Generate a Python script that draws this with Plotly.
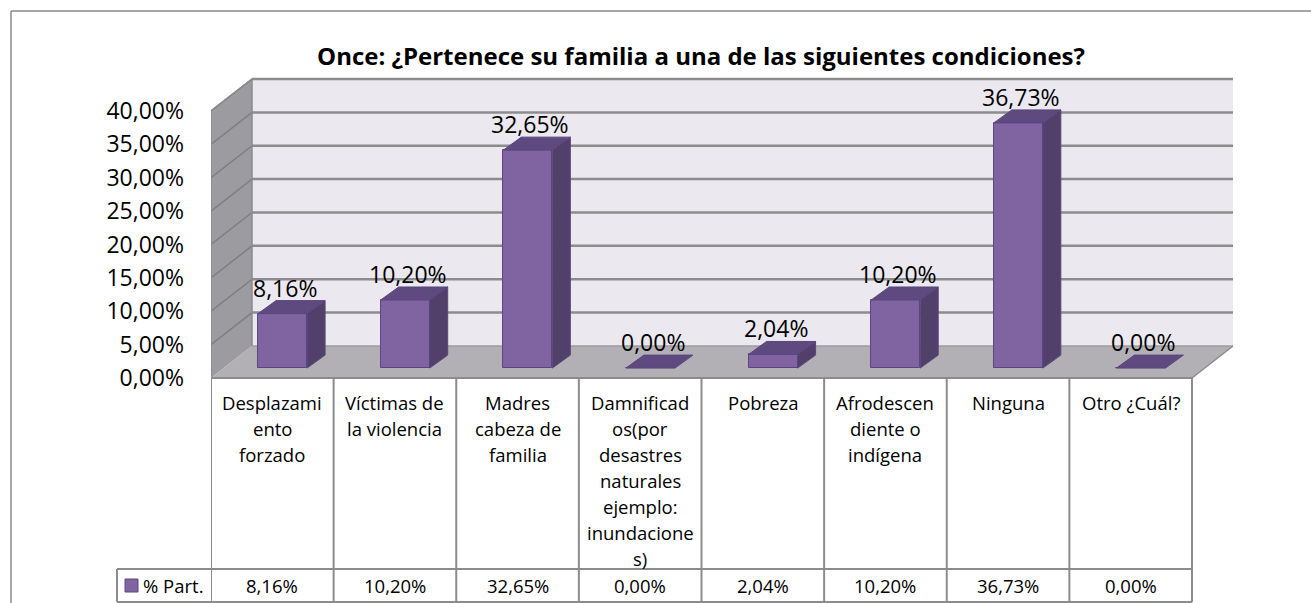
import plotly.graph_objects as go

# ---- data -------------------------------------------------------------
categories = [
    "Desplazamiento forzado",
    "Víctimas de la violencia",
    "Madres cabeza de familia",
    "Damnificados(por desastres naturales ejemplo: inundaciones)",
    "Pobreza",
    "Afrodescendiente o indígena",
    "Ninguna",
    "Otro ¿Cuál?",
]
# wrapped labels as they appear in the data-table header
category_lines = [
    ["Desplazami", "ento", "forzado"],
    ["Víctimas de", "la violencia"],
    ["Madres", "cabeza de", "familia"],
    ["Damnificad", "os(por", "desastres", "naturales", "ejemplo:", "inundacione", "s)"],
    ["Pobreza"],
    ["Afrodescen", "diente o", "indígena"],
    ["Ninguna"],
    ["Otro ¿Cuál?"],
]
values = [8.16, 10.20, 32.65, 0.00, 2.04, 10.20, 36.73, 0.00]
series_name = "% Part."
y_ticks = [0, 5, 10, 15, 20, 25, 30, 35, 40]
title_text = "Once: ¿Pertenece su familia a una de las siguientes condiciones?"


def pct(v):
    return f"{v:.2f}".replace(".", ",") + "%"


# ---- geometry of the oblique 3-D frame (axis units) --------------------
W, H = 1311, 603
LEFT = 211                     # left edge of the plotting area (px)
PX_X = 122.625                 # px per category
PX_Y = 6.675                   # px per percentage point
FLOOR_PX = 378                 # y pixel of the front floor edge
N = len(categories)
YMAX = 40

DX = 41 / PX_X                 # depth offset of the back wall
DY = 32 / PX_Y
BAR_W = 0.40                   # front-face width of a column
BX0, BY0 = 0.25 * DX, 0.31 * DY  # depth at which the column front sits
BDX, BDY = 18 / PX_X, 13 / PX_Y  # column depth

x_range = [0, (W - LEFT) / PX_X]
y_range = [(FLOOR_PX - H) / PX_Y, FLOOR_PX / PX_Y]

FRONT = "#8064A2"
TOP = "#5F4A7F"
SIDE = "#50406A"
EDGE = "#5A4680"
GRID = "#8C8C8C"

fig = go.Figure()

# ---- column front faces -------------------------------------------------
centers = [i + 0.5 + BX0 for i in range(N)]
fig.add_trace(go.Bar(
    x=centers, y=values, base=[BY0] * N, width=BAR_W,
    marker=dict(color=FRONT, line=dict(color=EDGE, width=1)),
    hoverinfo="skip", showlegend=False,
))

# ---- column top and side faces -----------------------------------------
top_x, top_y, side_x, side_y = [], [], [], []
for c, v in zip(centers, values):
    x0, x1 = c - BAR_W / 2, c + BAR_W / 2
    yb, yt = BY0, BY0 + v
    top_x += [x0, x1, x1 + BDX, x0 + BDX, x0, None]
    top_y += [yt, yt, yt + BDY, yt + BDY, yt, None]
    if v > 0:
        side_x += [x1, x1 + BDX, x1 + BDX, x1, x1, None]
        side_y += [yb, yb + BDY, yt + BDY, yt, yb, None]

fig.add_trace(go.Scatter(x=side_x, y=side_y, mode="lines", fill="toself",
                         fillcolor=SIDE, line=dict(color=EDGE, width=1),
                         hoverinfo="skip", showlegend=False))
fig.add_trace(go.Scatter(x=top_x, y=top_y, mode="lines", fill="toself",
                         fillcolor=TOP, line=dict(color=EDGE, width=1),
                         hoverinfo="skip", showlegend=False))

# ---- walls, floor and gridlines ----------------------------------------
shapes = []


def poly(pts, fill, line_color=None, width=0, layer="below"):
    d = "M " + " L ".join(f"{x},{y}" for x, y in pts) + " Z"
    shapes.append(dict(type="path", path=d, xref="x", yref="y",
                       fillcolor=fill, layer=layer,
                       line=dict(color=line_color or fill, width=width)))


def seg(x0, y0, x1, y1, color, width, xref="x", yref="y", layer="below"):
    shapes.append(dict(type="line", x0=x0, y0=y0, x1=x1, y1=y1,
                       xref=xref, yref=yref, layer=layer,
                       line=dict(color=color, width=width)))


# back wall
poly([(DX, DY), (N + DX, DY), (N + DX, YMAX + DY), (DX, YMAX + DY)], "#EBE8F0")
# side wall
poly([(0, 0), (DX, DY), (DX, YMAX + DY), (0, YMAX)], "#9C9BA0")
# floor
poly([(0, 0), (N, 0), (N + DX, DY), (DX, DY)], "#B3B0B5")

for t in y_ticks[1:]:
    seg(DX, t + DY, N + DX, t + DY, GRID, 2.5)
    seg(0, t, DX, t + DY, "#7E7E82", 1.5)
seg(DX, DY, N + DX, DY, "#9E9BA1", 1.5)
seg(DX, DY, DX, YMAX + DY, "#8A8A8E", 1.5)
seg(0, 0, 0, YMAX, "#8A8A8E", 1.5)
seg(0, YMAX, DX, YMAX + DY, "#8A8A8E", 1.5)
seg(N, 0, N + DX, DY, "#8E8C90", 1.5)

# ---- data table -----------------------------------------------------------
ROW1 = (FLOOR_PX - 569) / PX_Y
ROW2 = (FLOOR_PX - 602) / PX_Y
TBL = "#8C8C8C"
seg(0, 0, N, 0, TBL, 2, layer="above")
seg(0, ROW1, N, ROW1, TBL, 2, layer="above")
seg(0, ROW2, N, ROW2, TBL, 2, layer="above")
for i in range(N + 1):
    seg(i, 0, i, ROW2, TBL, 2, layer="above")


def px_to_paper_x(px):
    return (px - LEFT) / (W - LEFT)


def px_to_paper_y(py):
    return (H - py) / H


# legend-key cell left of the table
lx0 = px_to_paper_x(117)
seg(lx0, px_to_paper_y(569), 0, px_to_paper_y(569), TBL, 2, "paper", "paper", "above")
seg(lx0, px_to_paper_y(602), 0, px_to_paper_y(602), TBL, 2, "paper", "paper", "above")
seg(lx0, px_to_paper_y(569), lx0, px_to_paper_y(602), TBL, 2, "paper", "paper", "above")
shapes.append(dict(type="rect", xref="paper", yref="paper",
                   x0=px_to_paper_x(125), x1=px_to_paper_x(138),
                   y0=px_to_paper_y(592), y1=px_to_paper_y(579),
                   fillcolor=FRONT, line=dict(color=EDGE, width=1)))

# outer chart-area border
fx = px_to_paper_x(11)
fy = px_to_paper_y(11)
seg(fx, fy, 1.0, fy, "#8A8A8A", 1.5, "paper", "paper", "above")
seg(fx, fy, fx, 0, "#8A8A8A", 1.5, "paper", "paper", "above")

# ---- text -----------------------------------------------------------------
FONT = "Open Sans"
ann = []
for c, v in zip(centers, values):
    ann.append(dict(x=c + 0.02, y=v + BY0 + BDY + 13 / PX_Y, xref="x", yref="y",
                    text=pct(v), showarrow=False, xanchor="center", yanchor="middle",
                    font=dict(family=FONT, size=23, color="black")))

LINE0, LSTEP = 402, 26.0
for i, lines in enumerate(category_lines):
    for k, line in enumerate(lines):
        py = LINE0 + k * LSTEP
        ann.append(dict(x=i + 0.5, y=(FLOOR_PX - py) / PX_Y, xref="x", yref="y",
                        text=line, showarrow=False, xanchor="center", yanchor="middle",
                        font=dict(family=FONT, size=18.5, color="black")))
for i, v in enumerate(values):
    ann.append(dict(x=i + 0.5, y=(FLOOR_PX - 585) / PX_Y, xref="x", yref="y",
                    text=pct(v), showarrow=False, xanchor="center", yanchor="middle",
                    font=dict(family=FONT, size=18.5, color="black")))
ann.append(dict(x=px_to_paper_x(141), y=px_to_paper_y(585), xref="paper", yref="paper",
                text=series_name, showarrow=False, xanchor="left", yanchor="middle",
                font=dict(family=FONT, size=18.5, color="black")))

fig.update_layout(
    width=W, height=H,
    margin=dict(l=LEFT, r=0, t=0, b=0, pad=0),
    paper_bgcolor="white", plot_bgcolor="rgba(0,0,0,0)",
    showlegend=False,
    title=dict(text=f"<b>{title_text}</b>", xref="container", yref="container",
               x=701 / W, y=1 - 57 / H, xanchor="center", yanchor="middle",
               font=dict(family=FONT, size=24, color="black")),
    xaxis=dict(range=x_range, visible=False, fixedrange=True),
    yaxis=dict(range=y_range, tickvals=y_ticks, ticktext=[pct(t) for t in y_ticks],
               showgrid=False, zeroline=False, showline=False, ticks="",
               ticklabelstandoff=26, automargin=False, fixedrange=True,
               tickfont=dict(family=FONT, size=23, color="black")),
    shapes=shapes, annotations=ann, bargap=0,
)

fig.write_html("out.html")
